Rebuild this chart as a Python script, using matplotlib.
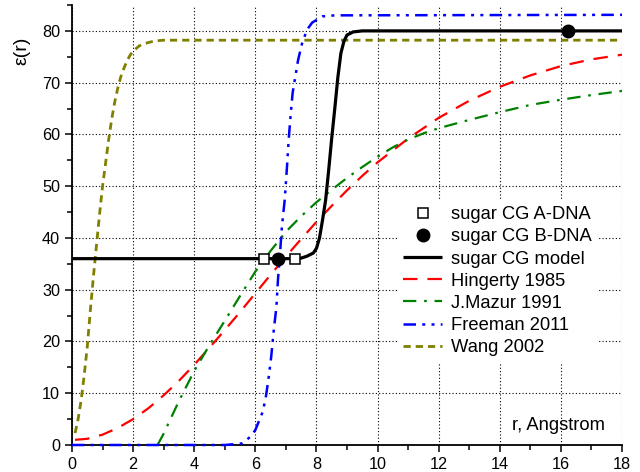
import matplotlib
matplotlib.use("Agg")
import matplotlib.pyplot as plt
from matplotlib.ticker import MultipleLocator

plt.rcParams['font.family'] = ['Liberation Sans', 'DejaVu Sans']

# ---- data ----
a_dna_r = [6.27, 7.29]
a_dna_e = [36, 36]
b_dna_r = [6.74, 16.24]
b_dna_e = [36, 80]

model_r = [0.0, 7.3, 7.5, 7.7, 7.9, 8.0, 8.1, 8.2, 8.3, 8.4, 8.5, 8.6, 8.7, 8.8, 8.9, 9.0, 9.2, 9.5, 18.0]
model_e = [36.0, 36.0, 36.1, 36.5, 37.1, 38.0, 40.0, 43.5, 47.3, 53.1, 59.3, 65.0, 71.0, 75.7, 78.0, 79.2, 79.8, 80.0, 80.0]

hing_r = [0.1, 0.5, 1, 1.5, 2, 2.5, 3, 3.5, 4, 4.5, 5, 5.5, 6, 6.5, 7, 7.5, 8, 8.5, 9, 9.5,
          10, 11, 12, 13, 14, 15, 16, 17, 18]
hing_e = [1.0, 1.2, 2.0, 3.3, 5.0, 7.1, 9.6, 12.4, 15.5, 18.8, 22.2, 25.7, 29.3, 32.9, 36.4,
          39.8, 43.1, 46.2, 49.2, 52.0, 54.6, 59.2, 63.2, 66.5, 69.2, 71.4, 73.2, 74.5, 75.4]

mazur_r = [2.8, 3.0, 3.5, 4.0, 4.5, 5.0, 5.5, 6.0, 6.5, 7.0, 7.5, 8.0, 8.5, 9.0, 9.5, 10, 10.5,
           11, 11.5, 12, 12.5, 13, 14, 15, 16, 17, 18]
mazur_e = [0.0, 2.2, 8.5, 14.3, 19.3, 24.0, 28.8, 33.5, 37.5, 41.2, 44.2, 46.9, 49.3, 51.6, 53.7,
           55.7, 57.5, 59.0, 60.2, 61.2, 62.0, 62.8, 64.3, 65.7, 66.7, 67.6, 68.4]

free_r = [0.0, 5.0, 5.56, 5.84, 6.0, 6.22, 6.33, 6.44, 6.52, 6.6, 6.69, 6.74, 6.8, 6.87, 6.96,
          7.04, 7.09, 7.15, 7.22, 7.31, 7.4, 7.53, 7.69, 7.86, 8.19, 8.6, 18.0]
free_e = [0.0, 0.0, 0.3, 1.6, 2.9, 6.1, 8.7, 13.2, 17.1, 22.0, 26.7, 31.9, 36.4, 42.2, 47.3,
          54.1, 58.9, 63.4, 68.0, 71.2, 74.4, 77.6, 80.2, 81.6, 82.8, 83.0, 83.1]

wang_r = [0.1, 0.2, 0.3, 0.4, 0.5, 0.6, 0.7, 0.8, 0.9, 1.0, 1.1, 1.2, 1.3, 1.4, 1.5, 1.6, 1.7,
          1.8, 1.9, 2.0, 2.2, 2.4, 2.6, 2.8, 3.0, 3.5, 18.0]
wang_e = [2.3, 5.0, 8.7, 13.5, 19.0, 26.0, 32.5, 38.5, 44.5, 50.0, 54.5, 59.0, 63.0, 66.3, 69.0,
          71.2, 72.8, 74.2, 75.3, 76.1, 77.1, 77.6, 77.9, 78.1, 78.2, 78.2, 78.2]

x_ticks = [0, 2, 4, 6, 8, 10, 12, 14, 16, 18]
y_ticks = [0, 10, 20, 30, 40, 50, 60, 70, 80]

fig = plt.figure(figsize=(6.4, 4.72), dpi=100)
ax = fig.add_axes([0.1125, 0.0572, 0.8594, 0.9322])

ax.plot(model_r, model_e, color='black', lw=2.3, solid_capstyle='butt', label='sugar CG model', zorder=4)
l_h, = ax.plot(hing_r, hing_e, color='#FF0000', lw=1.6, label='Hingerty 1985', zorder=3)
l_h.set_dashes([6.5, 4.5])
l_m, = ax.plot(mazur_r, mazur_e, color='#008000', lw=1.6, label='J.Mazur 1991', zorder=3)
l_m.set_dashes([6.0, 3.5, 1.2, 3.5])
l_f, = ax.plot(free_r, free_e, color='#0000FF', lw=1.8, label='Freeman 2011', zorder=3, clip_on=False)
l_f.set_dashes([5.0, 2.5, 1.2, 2.5, 1.2, 2.5])
l_w, = ax.plot(wang_r, wang_e, color='#808000', lw=2.0, label='Wang 2002', zorder=3)
l_w.set_dashes([2.6, 1.8])

ax.plot(a_dna_r, a_dna_e, linestyle='none', marker='s', ms=7.5, mfc='white', mec='black', mew=1.1,
        label='sugar CG A-DNA', zorder=5)
ax.plot(b_dna_r, b_dna_e, linestyle='none', marker='o', ms=9, mfc='black', mec='black',
        label='sugar CG B-DNA', zorder=5, clip_on=False)

ax.set_xlim(0, 18)
ax.set_ylim(0, 85)
ax.set_xticks(x_ticks)
ax.set_yticks(y_ticks)
ax.xaxis.set_minor_locator(MultipleLocator(1))
ax.yaxis.set_minor_locator(MultipleLocator(5))
ax.tick_params(which='major', direction='out', length=5, width=1.1, labelsize=11.7, colors='black')
ax.tick_params(which='minor', direction='out', length=3.5, width=1.1)
ax.spines['top'].set_visible(False)
ax.spines['right'].set_visible(False)
for s in ('left', 'bottom'):
    ax.spines[s].set_linewidth(1.3)
ax.grid(True, which='major', linestyle=(0, (1, 2)), color='black', lw=0.8)
ax.set_axisbelow(True)

ax.set_ylabel('ε(r)', fontsize=14)
ax.yaxis.set_label_coords(-0.075, 0.895)
ax.text(17.45, 2.9, 'r, Angstrom', fontsize=13.2, ha='right', va='baseline')

handles, labels = ax.get_legend_handles_labels()
order = ['sugar CG A-DNA', 'sugar CG B-DNA', 'sugar CG model', 'Hingerty 1985',
         'J.Mazur 1991', 'Freeman 2011', 'Wang 2002']
hmap = dict(zip(labels, handles))
leg = ax.legend([hmap[k] for k in order], order, loc='upper left', bbox_to_anchor=(0.591, 0.557),
                borderaxespad=0, fontsize=13.2, frameon=True, fancybox=False, framealpha=1,
                facecolor='white', edgecolor='none', handlelength=2.1, handletextpad=0.5,
                labelspacing=0.28, borderpad=0.35)
leg.set_zorder(6)

fig.savefig('out.png', dpi=100)
